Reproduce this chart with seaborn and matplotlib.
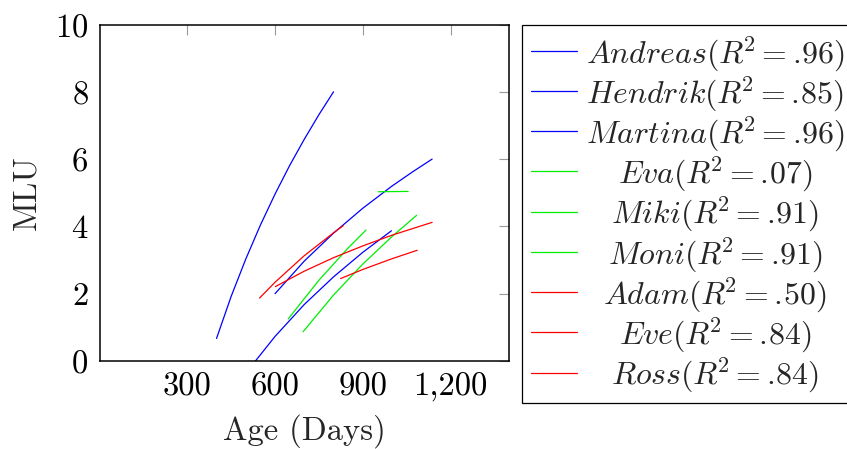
import matplotlib
matplotlib.use("Agg")
import matplotlib.pyplot as plt
import matplotlib.ticker as mticker
import pandas as pd
import seaborn as sns

# MLU growth curves (age in days, MLU)
andreas_age = [400, 450, 500, 550, 600, 650, 700, 750, 800]
andreas_mlu = [0.67, 1.92, 3.03, 4.04, 4.96, 5.81, 6.59, 7.32, 8.00]
hendrik_age = [533, 600, 700, 800, 900, 998]
hendrik_mlu = [0.00, 0.73, 1.68, 2.50, 3.23, 3.87]
martina_age = [600, 700, 800, 900, 1000, 1070, 1137]
martina_mlu = [2.00, 2.97, 3.80, 4.54, 5.20, 5.62, 6.00]
eva_age = [953, 1055]
eva_mlu = [5.03, 5.04]
miki_age = [645, 750, 850, 911]
miki_mlu = [1.25, 2.40, 3.36, 3.89]
moni_age = [696, 800, 900, 1000, 1084]
moni_mlu = [0.87, 1.96, 2.88, 3.70, 4.33]
adam_age = [824, 900, 1000, 1086]
adam_mlu = [2.45, 2.72, 3.04, 3.29]
eve_age = [547, 600, 700, 800, 833]
eve_mlu = [1.87, 2.34, 3.13, 3.81, 4.02]
ross_age = [601, 700, 800, 900, 1000, 1137]
ross_mlu = [2.21, 2.67, 3.07, 3.42, 3.74, 4.12]

children = ["Andreas", "Hendrik", "Martina", "Eva", "Miki", "Moni", "Adam", "Eve", "Ross"]
r2 = ["96", "85", "96", "07", "91", "91", "50", "84", "84"]
colors = ["blue", "blue", "blue", "#00ee00", "#00ee00", "#00ee00", "red", "red", "red"]
ages = [andreas_age, hendrik_age, martina_age, eva_age, miki_age, moni_age, adam_age, eve_age, ross_age]
mlus = [andreas_mlu, hendrik_mlu, martina_mlu, eva_mlu, miki_mlu, moni_mlu, adam_mlu, eve_mlu, ross_mlu]

sns.set_style("white")
plt.rcParams["font.family"] = "serif"
plt.rcParams["font.serif"] = ["cmr10"]
plt.rcParams["mathtext.fontset"] = "cm"
plt.rcParams["axes.unicode_minus"] = False
plt.rcParams["axes.formatter.use_mathtext"] = True

FS = 23.5
LFS = 22.9
fig = plt.figure(figsize=(8.47, 4.49), dpi=100)
ax = fig.add_axes([0.1175, 0.196, 0.4835, 0.7494])

for name, r, c, a, m in zip(children, r2, colors, ages, mlus):
    df = pd.DataFrame({"age": a, "mlu": m})
    sns.lineplot(data=df, x="age", y="mlu", color=c, linewidth=0.9, ax=ax,
                 label=rf"${name}(R^{{\!2}} = .\!{r})$")

ax.set_xlim(0, 1400)
ax.set_ylim(0, 10)
ax.set_xticks([300, 600, 900, 1200])
ax.set_yticks(range(0, 11, 2))
ax.xaxis.set_major_formatter(mticker.StrMethodFormatter("{x:,.0f}"))
ax.tick_params(axis="both", direction="in", length=7.5, width=0.8, color="0.6",
               top=True, right=True, labelsize=FS, pad=8, labelcolor="black")
for s in ax.spines.values():
    s.set_color("black")
    s.set_linewidth(1.1)
ax.set_xlabel("Age (Days)", fontsize=FS, labelpad=9)
ax.set_ylabel("MLU", fontsize=FS, labelpad=10)

leg = ax.legend(loc="upper left", bbox_to_anchor=(522 / 847, 1 - 25 / 449),
                bbox_transform=fig.transFigure, borderaxespad=0, fontsize=LFS,
                frameon=True, fancybox=False, framealpha=1, edgecolor="black",
                handlelength=1.45, handletextpad=0.28, labelspacing=0.04,
                borderpad=0.27)
leg.get_frame().set_linewidth(0.9)

# center the entries like the pgfplots legend
fig.canvas.draw()
texts = leg.get_texts()
widths = [t.get_window_extent().width for t in texts]
wmax = max(widths)
for t, w in zip(texts, widths):
    t.set_x((wmax - w) / 2)

fig.savefig("out.png", dpi=100)
